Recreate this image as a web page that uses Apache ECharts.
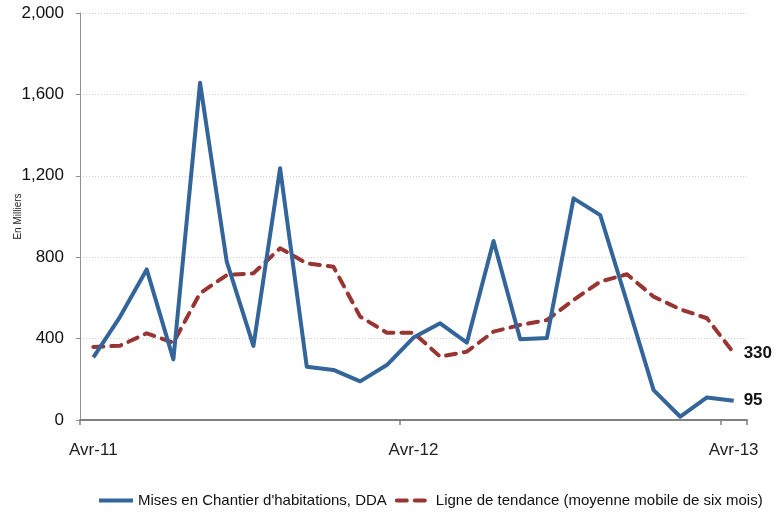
<!DOCTYPE html>
<html>
<head>
<meta charset="utf-8">
<script src="https://cdn.jsdelivr.net/npm/echarts@6/dist/echarts.min.js"></script>
<style>
html,body{margin:0;padding:0;background:#fff;}
#c{width:778px;height:514px;}
</style>
</head>
<body>
<div id="c"></div>
<script>
var months = ["Avr-11","Mai-11","Juin-11","Juil-11","Août-11","Sept-11","Oct-11","Nov-11","Déc-11","Janv-12","Févr-12","Mars-12",
              "Avr-12","Mai-12","Juin-12","Juil-12","Août-12","Sept-12","Oct-12","Nov-12","Déc-12","Janv-13","Févr-13","Mars-13","Avr-13"];
var startsSeries = [308, 507, 740, 298, 1657, 778, 364, 1237, 262, 246, 190, 270, 405, 475, 380, 880, 397, 403, 1089, 1007, 580, 147, 16, 111, 95];
var trendSeries  = [359, 365, 426, 380, 623, 712, 721, 844, 770, 753, 508, 429, 429, 311, 336, 434, 467, 491, 590, 680, 716, 606, 544, 500, 330];
var seriesNames = ["Mises en Chantier d'habitations, DDA", "Ligne de tendance (moyenne mobile de six mois)"];
var yTicks = [0, 400, 800, 1200, 1600, 2000];

var FONT = "Liberation Sans, Arial, sans-serif";
var chart = echarts.init(document.getElementById('c'), null, {renderer: 'canvas'});
chart.setOption({
  animation: false,
  backgroundColor: '#fff',
  textStyle: {fontFamily: FONT},
  grid: {left: 80, right: 31, top: 13, bottom: 94, outerBoundsMode: 'none'},
  legend: {
    left: 92, top: 488,
    itemWidth: 34, itemHeight: 14, itemGap: 8,
    itemStyle: {opacity: 0},
    lineStyle: {width: 4},
    textStyle: {fontSize: 15, color: '#111', fontFamily: FONT},
    data: seriesNames
  },
  xAxis: {
    type: 'category',
    data: months,
    boundaryGap: true,
    axisLine: {lineStyle: {color: '#808080', width: 2}},
    axisTick: {show: true, length: 5, interval: 11, lineStyle: {color: '#808080', width: 1.5}},
    axisLabel: {interval: 11, fontSize: 17, color: '#222', margin: 22, fontFamily: FONT},
    splitLine: {show: false}
  },
  yAxis: {
    type: 'value',
    min: yTicks[0], max: yTicks[yTicks.length-1], interval: 400,
    name: 'En Milliers',
    nameLocation: 'middle',
    nameRotate: 90,
    nameGap: 57,
    nameMoveOverlap: false,
    nameTextStyle: {fontSize: 10, color: '#222', fontFamily: FONT},
    axisLine: {show: true, lineStyle: {color: '#909090', width: 1}},
    axisTick: {show: true, length: 4, lineStyle: {color: '#909090'}},
    axisLabel: {fontSize: 17, color: '#111', margin: 16, fontFamily: FONT,
      formatter: function(v){ return v.toLocaleString('en-US'); }},
    splitLine: {show: true, lineStyle: {color: '#cfcfcf', type: [1, 2], width: 1}}
  },
  series: [
    {
      name: seriesNames[0],
      type: 'line',
      data: startsSeries,
      symbol: 'none',
      color: '#33649A',
      lineStyle: {color: '#33649A', width: 4, join: 'round'},
      endLabel: {show: true, distance: 10, fontSize: 17, fontWeight: 'bold', color: '#111', fontFamily: FONT,
        formatter: function(p){ return p.value; }},
      z: 3
    },
    {
      name: seriesNames[1],
      type: 'line',
      data: trendSeries,
      symbol: 'none',
      color: '#983532',
      lineStyle: {color: '#983532', width: 4, type: [10, 8], cap: 'round', join: 'round'},
      endLabel: {show: true, distance: 10, fontSize: 17, fontWeight: 'bold', color: '#111', fontFamily: FONT,
        formatter: function(p){ return p.value; }},
      z: 2
    }
  ]
});
</script>
</body>
</html>
